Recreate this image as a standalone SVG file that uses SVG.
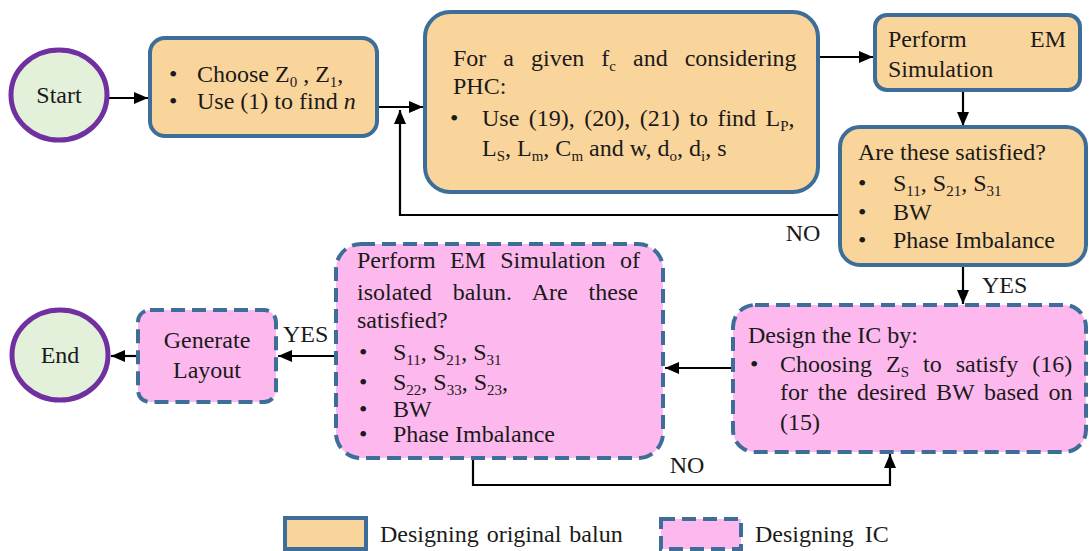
<svg xmlns="http://www.w3.org/2000/svg" width="1089" height="551" viewBox="0 0 1089 551">
<style>
text{font-family:"Liberation Serif","Times New Roman",serif;font-size:24px;fill:#1a1a1a}
.sub{font-size:15px}
.orig{fill:#FAD59B;stroke:#3C6E99;stroke-width:4}
.ic{fill:#FDB9EE;stroke:#3C6E99;stroke-width:4;stroke-dasharray:14 7}
.term{fill:#E3F0DA;stroke:#7030A0;stroke-width:5}
.conn{fill:none;stroke:#000;stroke-width:2.2}
.arr{marker-end:url(#ah)}
</style>
<defs>
<marker id="ah" markerUnits="userSpaceOnUse" markerWidth="14" markerHeight="12" refX="14" refY="6" orient="auto">
<path d="M0,0 L14,6 L0,12 z" fill="#000"/>
</marker>
</defs>
<rect width="1089" height="551" fill="#fff"/>

<g id="connectors">
<path class="conn arr" d="M108,98 H148"/>
<path class="conn arr" d="M378,107 H423"/>
<path class="conn arr" d="M818,57 H873"/>
<path class="conn arr" d="M963,90 V126"/>
<path class="conn arr" d="M840,215 H400 V110"/>
<path class="conn arr" d="M963,267 V304"/>
<path class="conn arr" d="M733,368 H665"/>
<path class="conn arr" d="M473,458 V485 H890 V454"/>
<path class="conn arr" d="M336,356 H278"/>
<path class="conn arr" d="M138,356 H111"/>
<text x="803" y="241" text-anchor="middle">NO</text>
<text x="982" y="293">YES</text>
<text x="687" y="473" text-anchor="middle">NO</text>
<text x="283" y="342">YES</text>
</g>

<g id="start">
<ellipse class="term" cx="59" cy="95" rx="48" ry="45"/>
<text x="59" y="103" text-anchor="middle">Start</text>
</g>

<g id="choose">
<rect class="orig" x="150" y="38" width="227" height="98" rx="15"/>
<text x="169" y="82">•</text>
<text x="197" y="82">Choose Z<tspan class="sub" dy="5">0</tspan><tspan dy="-5"> , Z</tspan><tspan class="sub" dy="5">1</tspan><tspan dy="-5">,</tspan></text>
<text x="169" y="109">•</text>
<text x="197" y="109">Use (1) to find <tspan font-style="italic">n</tspan></text>
</g>

<g id="given">
<rect class="orig" x="425" y="12" width="393" height="180" rx="25"/>
<text x="453" y="66" word-spacing="11">For a given f<tspan class="sub" dy="5">c</tspan><tspan dy="-5"> and considering</tspan></text>
<text x="453" y="94">PHC:</text>
<text x="450" y="126">•</text>
<text x="482" y="126" word-spacing="3.5">Use (19), (20), (21) to find L<tspan class="sub" dy="5">P</tspan><tspan dy="-5">,</tspan></text>
<text x="482" y="156">L<tspan class="sub" dy="5">S</tspan><tspan dy="-5">, L</tspan><tspan class="sub" dy="5">m</tspan><tspan dy="-5">, C</tspan><tspan class="sub" dy="5">m</tspan><tspan dy="-5"> and w, d</tspan><tspan class="sub" dy="5">o</tspan><tspan dy="-5">, d</tspan><tspan class="sub" dy="5">i</tspan><tspan dy="-5">, s</tspan></text>
</g>

<g id="perform">
<rect class="orig" x="875" y="15" width="205" height="75" rx="12"/>
<text x="888" y="47">Perform</text>
<text x="1066" y="47" text-anchor="end">EM</text>
<text x="888" y="77">Simulation</text>
</g>

<g id="satisfied">
<rect class="orig" x="840" y="127" width="246" height="138" rx="20"/>
<text x="858" y="160">Are these satisfied?</text>
<text x="858" y="191">•</text>
<text x="893" y="191">S<tspan class="sub" dy="5">11</tspan><tspan dy="-5">, S</tspan><tspan class="sub" dy="5">21</tspan><tspan dy="-5">, S</tspan><tspan class="sub" dy="5">31</tspan></text>
<text x="858" y="220">•</text>
<text x="893" y="220">BW</text>
<text x="858" y="248">•</text>
<text x="893" y="248">Phase Imbalance</text>
</g>

<g id="designic">
<rect class="ic" x="733" y="305" width="353" height="147" rx="22"/>
<text x="748" y="343">Design the IC by:</text>
<text x="750" y="372">•</text>
<text x="780" y="372" word-spacing="8">Choosing Z<tspan class="sub" dy="5">S</tspan><tspan dy="-5"> to satisfy (16)</tspan></text>
<text x="780" y="400" word-spacing="3.8">for the desired BW based on</text>
<text x="780" y="430">(15)</text>
</g>

<g id="isolated">
<rect class="ic" x="336" y="244" width="327" height="214" rx="25"/>
<text x="357" y="268" word-spacing="8.3">Perform EM Simulation of</text>
<text x="357" y="300" word-spacing="15">isolated balun. Are these</text>
<text x="357" y="328">satisfied?</text>
<text x="359" y="360">•</text>
<text x="393" y="360">S<tspan class="sub" dy="5">11</tspan><tspan dy="-5">, S</tspan><tspan class="sub" dy="5">21</tspan><tspan dy="-5">, S</tspan><tspan class="sub" dy="5">31</tspan></text>
<text x="359" y="390">•</text>
<text x="393" y="390">S<tspan class="sub" dy="5">22</tspan><tspan dy="-5">, S</tspan><tspan class="sub" dy="5">33</tspan><tspan dy="-5">, S</tspan><tspan class="sub" dy="5">23</tspan><tspan dy="-5">,</tspan></text>
<text x="359" y="417">•</text>
<text x="393" y="417">BW</text>
<text x="359" y="442">•</text>
<text x="393" y="442">Phase Imbalance</text>
</g>

<g id="layout">
<rect class="ic" x="138" y="310" width="138" height="92" rx="12"/>
<text x="207" y="348" text-anchor="middle">Generate</text>
<text x="207" y="378" text-anchor="middle">Layout</text>
</g>

<g id="end">
<ellipse class="term" cx="60" cy="355" rx="48" ry="45"/>
<text x="60" y="363" text-anchor="middle">End</text>
</g>

<g id="legend">
<rect class="orig" x="285" y="518" width="81" height="31"/>
<text x="380" y="542" word-spacing="2">Designing original balun</text>
<rect class="ic" x="661" y="519" width="80" height="30"/>
<text x="755" y="542" word-spacing="5">Designing IC</text>
</g>
</svg>
